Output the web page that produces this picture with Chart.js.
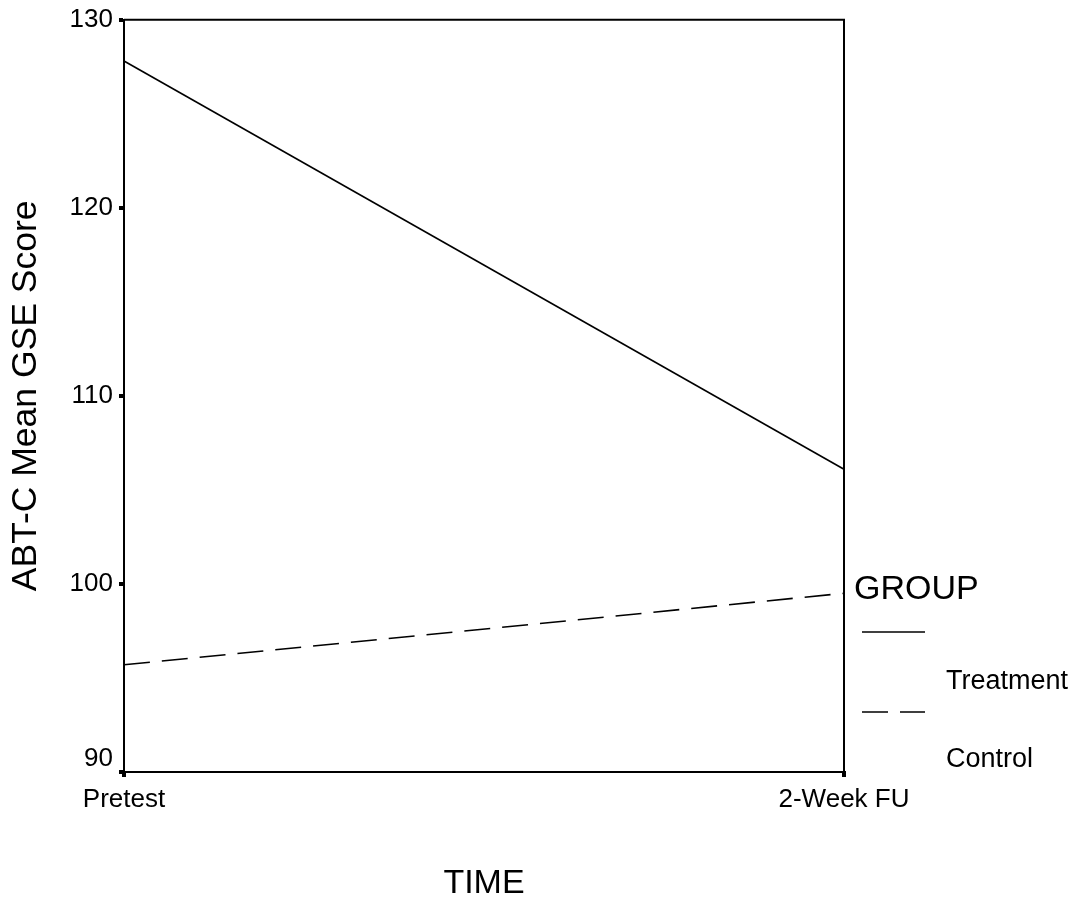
<!DOCTYPE html>
<html>
<head>
<meta charset="utf-8">
<title>ABT-C Mean GSE Score</title>
<script src="https://cdn.jsdelivr.net/npm/chart.js@4/dist/chart.umd.min.js"></script>
<style>
    html, body { margin: 0; padding: 0; background: #fff; }
    #wrap { width: 1080px; height: 905px; }
</style>
</head>
<body>
<div id="wrap"><canvas id="score-chart" width="1080" height="905"></canvas></div>
<script>
// Group means at each measurement point
var timeLabels = ['Pretest', '2-Week FU'];
var treatmentScores = [127.8, 106.1];
var controlScores = [95.7, 99.5];
var yTicks = [90, 100, 110, 120, 130];

var FONT = "'Liberation Sans', Arial, Helvetica, sans-serif";

(function() {
    'use strict';

    // Close the box on top and right, then draw the GROUP key beside it
    var framePlugin = {
        id: 'frameAndKey',
        afterDatasetsDraw: function(chart) {
            var ctx = chart.ctx;
            var area = chart.chartArea;
            ctx.save();
            ctx.strokeStyle = '#000';
            ctx.lineWidth = 2;
            ctx.beginPath();
            ctx.moveTo(area.left, area.top);
            ctx.lineTo(area.right, area.top);
            ctx.lineTo(area.right, area.bottom);
            ctx.stroke();

            var x0 = area.right;
            ctx.fillStyle = '#000';
            ctx.textBaseline = 'middle';
            ctx.textAlign = 'left';
            ctx.font = '34px ' + FONT;
            ctx.fillText('GROUP', x0 + 10, 590);

            var rows = [{ y: 632, ty: 682 }, { y: 712, ty: 760 }];
            chart.data.datasets.forEach(function(ds, i) {
                var r = rows[i];
                ctx.lineWidth = ds.borderWidth;
                ctx.setLineDash(ds.borderDash || []);
                ctx.beginPath();
                ctx.moveTo(x0 + 18, r.y);
                ctx.lineTo(x0 + 81, r.y);
                ctx.stroke();
                ctx.setLineDash([]);
                ctx.font = '27px ' + FONT;
                ctx.fillText(ds.label, x0 + 102, r.ty);
            });
            ctx.restore();
        }
    };

    var ctx = document.getElementById('score-chart').getContext('2d');
    new Chart(ctx, {
        type: 'line',
        data: {
            labels: timeLabels,
            datasets: [{
                label: 'Treatment',
                data: treatmentScores,
                borderColor: '#000',
                borderWidth: 1.6,
                pointRadius: 0,
                tension: 0
            }, {
                label: 'Control',
                data: controlScores,
                borderColor: '#000',
                borderWidth: 1.6,
                borderDash: [26, 12],
                pointRadius: 0,
                tension: 0
            }]
        },
        options: {
            responsive: false,
            animation: false,
            layout: {
                padding: { top: 19, right: 236, bottom: 0, left: 0 }
            },
            plugins: {
                legend: { display: false },
                tooltip: { enabled: false }
            },
            scales: {
                x: {
                    offset: false,
                    grid: {
                        display: true,
                        drawOnChartArea: false,
                        drawTicks: true,
                        tickLength: 5,
                        lineWidth: 4,
                        color: '#000'
                    },
                    border: { display: true, color: '#000', width: 2 },
                    ticks: {
                        color: '#000',
                        padding: 7,
                        maxRotation: 0,
                        font: { family: FONT, size: 26 }
                    },
                    title: {
                        display: true,
                        text: 'TIME',
                        color: '#000',
                        padding: { top: 0, bottom: 1 },
                        font: { family: FONT, size: 34 }
                    },
                    afterFit: function(scale) {
                        scale.height = 133;
                    }
                },
                y: {
                    min: yTicks[0],
                    max: yTicks[yTicks.length - 1],
                    grid: {
                        display: true,
                        drawOnChartArea: false,
                        drawTicks: true,
                        tickLength: 5,
                        lineWidth: 4,
                        color: '#000'
                    },
                    border: { display: true, color: '#000', width: 2 },
                    afterBuildTicks: function(scale) {
                        scale.ticks = yTicks.map(function(v) { return { value: v }; });
                    },
                    ticks: {
                        color: '#000',
                        padding: 6,
                        font: { family: FONT, size: 26, lineHeight: 1.05 },
                        callback: function(value) {
                            // bottom label sits a little above its tick
                            return value === yTicks[0] ? [String(value), ''] : String(value);
                        }
                    },
                    title: {
                        display: true,
                        text: 'ABT-C Mean GSE Score',
                        color: '#000',
                        padding: { top: 5, bottom: 0 },
                        font: { family: FONT, size: 35.5 }
                    },
                    afterFit: function(scale) {
                        scale.width = 124;
                    }
                }
            }
        },
        plugins: [framePlugin]
    });
})();
</script>
</body>
</html>
